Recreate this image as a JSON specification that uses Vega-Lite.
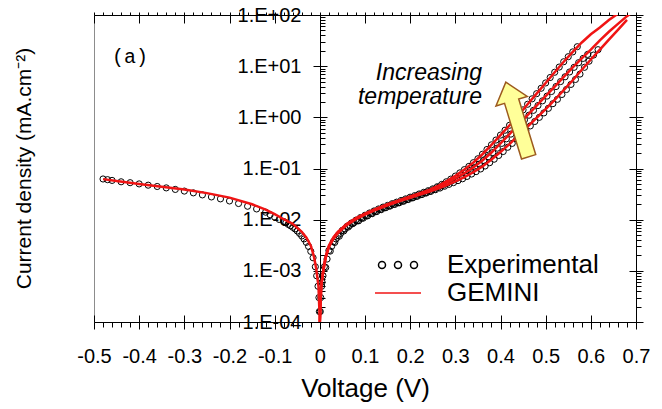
{
  "$schema": "https://vega.github.io/schema/vega-lite/v6.json",
  "width": 542,
  "height": 307,
  "autosize": {"type": "none"},
  "padding": {"left": 94, "top": 15, "right": 26, "bottom": 87},
  "config": {
    "font": "Liberation Sans",
    "view": {"stroke": "#8c8c8c", "strokeWidth": 1},
    "axis": {"grid": false, "domainColor": "black", "tickColor": "black", "labelColor": "black", "titleColor": "black", "domainWidth": 1, "tickWidth": 1, "labelOverlap": false, "labelFlush": false, "labelBound": false, "titleFontWeight": "normal"}
  },
  "datasets": {
    "exp": [
      {"v": -0.48, "j": 0.0624, "s": "N"}, {"v": -0.47, "j": 0.0605, "s": "N"}, {"v": -0.46, "j": 0.0585, "s": "N"}, {"v": -0.44, "j": 0.055, "s": "N"}, {"v": -0.42, "j": 0.0528, "s": "N"}, {"v": -0.40, "j": 0.050, "s": "N"}, {"v": -0.38, "j": 0.0472, "s": "N"}, {"v": -0.36, "j": 0.0445, "s": "N"}, {"v": -0.34, "j": 0.0418, "s": "N"}, {"v": -0.32, "j": 0.039, "s": "N"}, {"v": -0.30, "j": 0.0362, "s": "N"}, {"v": -0.28, "j": 0.0334, "s": "N"}, {"v": -0.26, "j": 0.0305, "s": "N"}, {"v": -0.24, "j": 0.0278, "s": "N"}, {"v": -0.22, "j": 0.0255, "s": "N"}, {"v": -0.20, "j": 0.0232, "s": "N"}, {"v": -0.18, "j": 0.0207, "s": "N"}, {"v": -0.16, "j": 0.0183, "s": "N"}, {"v": -0.14, "j": 0.0162, "s": "N"}, {"v": -0.12, "j": 0.014, "s": "N"}, {"v": -0.11, "j": 0.0125, "s": "N"}, {"v": -0.10, "j": 0.0112, "s": "N"}, {"v": -0.09, "j": 0.0101, "s": "N"}, {"v": -0.08, "j": 0.0092, "s": "N"}, {"v": -0.075, "j": 0.0087, "s": "N"}, {"v": -0.07, "j": 0.0081, "s": "N"}, {"v": -0.065, "j": 0.0076, "s": "N"}, {"v": -0.06, "j": 0.0071, "s": "N"}, {"v": -0.055, "j": 0.0066, "s": "N"}, {"v": -0.05, "j": 0.006, "s": "N"}, {"v": -0.045, "j": 0.0054, "s": "N"}, {"v": -0.04, "j": 0.0048, "s": "N"}, {"v": -0.035, "j": 0.0042, "s": "N"}, {"v": -0.03, "j": 0.0036, "s": "N"}, {"v": -0.025, "j": 0.003, "s": "N"}, {"v": -0.02, "j": 0.0024, "s": "N"}, {"v": -0.015, "j": 0.0018, "s": "N"}, {"v": -0.01, "j": 0.0012, "s": "N"}, {"v": -0.007, "j": 0.0008, "s": "N"}, {"v": -0.004, "j": 0.0005, "s": "N"}, {"v": -0.002, "j": 0.0003, "s": "N"}, {"v": -0.001, "j": 0.00016, "s": "N"},
      {"v": 0.001, "j": 0.00016, "s": "H"}, {"v": 0.002, "j": 0.0003, "s": "H"}, {"v": 0.004, "j": 0.0005, "s": "H"}, {"v": 0.007, "j": 0.0008, "s": "H"}, {"v": 0.01, "j": 0.0012, "s": "H"}, {"v": 0.02, "j": 0.0025, "s": "H"}, {"v": 0.03, "j": 0.0037, "s": "H"}, {"v": 0.04, "j": 0.0049, "s": "H"}, {"v": 0.05, "j": 0.0062, "s": "H"}, {"v": 0.06, "j": 0.0074, "s": "H"}, {"v": 0.07, "j": 0.0086, "s": "H"}, {"v": 0.08, "j": 0.0098, "s": "H"}, {"v": 0.09, "j": 0.011, "s": "H"}, {"v": 0.10, "j": 0.0122, "s": "H"}, {"v": 0.11, "j": 0.0135, "s": "H"}, {"v": 0.12, "j": 0.0148, "s": "H"}, {"v": 0.13, "j": 0.0162, "s": "H"}, {"v": 0.14, "j": 0.0176, "s": "H"}, {"v": 0.15, "j": 0.019, "s": "H"}, {"v": 0.16, "j": 0.0205, "s": "H"}, {"v": 0.17, "j": 0.022, "s": "H"}, {"v": 0.18, "j": 0.0237, "s": "H"}, {"v": 0.19, "j": 0.0255, "s": "H"}, {"v": 0.20, "j": 0.0275, "s": "H"}, {"v": 0.21, "j": 0.0295, "s": "H"}, {"v": 0.22, "j": 0.0318, "s": "H"}, {"v": 0.23, "j": 0.0342, "s": "H"}, {"v": 0.24, "j": 0.0368, "s": "H"}, {"v": 0.25, "j": 0.04, "s": "H"}, {"v": 0.26, "j": 0.044, "s": "H"}, {"v": 0.27, "j": 0.049, "s": "H"}, {"v": 0.28, "j": 0.055, "s": "H"}, {"v": 0.29, "j": 0.062, "s": "H"}, {"v": 0.30, "j": 0.071, "s": "H"}, {"v": 0.31, "j": 0.082, "s": "H"}, {"v": 0.32, "j": 0.095, "s": "H"}, {"v": 0.33, "j": 0.11, "s": "H"}, {"v": 0.34, "j": 0.13, "s": "H"}, {"v": 0.35, "j": 0.155, "s": "H"}, {"v": 0.36, "j": 0.19, "s": "H"}, {"v": 0.37, "j": 0.235, "s": "H"}, {"v": 0.38, "j": 0.29, "s": "H"}, {"v": 0.39, "j": 0.36, "s": "H"}, {"v": 0.40, "j": 0.45, "s": "H"}, {"v": 0.41, "j": 0.56, "s": "H"}, {"v": 0.42, "j": 0.70, "s": "H"}, {"v": 0.43, "j": 0.88, "s": "H"}, {"v": 0.44, "j": 1.1, "s": "H"}, {"v": 0.45, "j": 1.4, "s": "H"}, {"v": 0.46, "j": 1.8, "s": "H"}, {"v": 0.47, "j": 2.3, "s": "H"}, {"v": 0.48, "j": 2.9, "s": "H"}, {"v": 0.49, "j": 3.7, "s": "H"}, {"v": 0.50, "j": 4.7, "s": "H"}, {"v": 0.51, "j": 6.0, "s": "H"}, {"v": 0.52, "j": 7.6, "s": "H"}, {"v": 0.53, "j": 9.6, "s": "H"}, {"v": 0.54, "j": 12.2, "s": "H"}, {"v": 0.55, "j": 15.3, "s": "H"}, {"v": 0.56, "j": 19, "s": "H"}, {"v": 0.57, "j": 24, "s": "H"},
      {"v": 0.005, "j": 0.0006, "s": "M"}, {"v": 0.013, "j": 0.00116, "s": "M"}, {"v": 0.023, "j": 0.00243, "s": "M"}, {"v": 0.033, "j": 0.00359, "s": "M"}, {"v": 0.043, "j": 0.00475, "s": "M"}, {"v": 0.053, "j": 0.00601, "s": "M"}, {"v": 0.063, "j": 0.00718, "s": "M"}, {"v": 0.073, "j": 0.00834, "s": "M"}, {"v": 0.083, "j": 0.0095, "s": "M"}, {"v": 0.093, "j": 0.0107, "s": "M"}, {"v": 0.103, "j": 0.0118, "s": "M"}, {"v": 0.113, "j": 0.0131, "s": "M"}, {"v": 0.123, "j": 0.0144, "s": "M"}, {"v": 0.133, "j": 0.0157, "s": "M"}, {"v": 0.143, "j": 0.0171, "s": "M"}, {"v": 0.153, "j": 0.0184, "s": "M"}, {"v": 0.163, "j": 0.0199, "s": "M"}, {"v": 0.173, "j": 0.0213, "s": "M"}, {"v": 0.183, "j": 0.023, "s": "M"}, {"v": 0.193, "j": 0.0247, "s": "M"}, {"v": 0.203, "j": 0.0267, "s": "M"}, {"v": 0.213, "j": 0.0286, "s": "M"}, {"v": 0.223, "j": 0.0308, "s": "M"}, {"v": 0.233, "j": 0.0332, "s": "M"}, {"v": 0.243, "j": 0.0357, "s": "M"}, {"v": 0.253, "j": 0.0388, "s": "M"}, {"v": 0.263, "j": 0.043, "s": "M"}, {"v": 0.273, "j": 0.047, "s": "M"}, {"v": 0.283, "j": 0.052, "s": "M"}, {"v": 0.293, "j": 0.058, "s": "M"}, {"v": 0.303, "j": 0.064, "s": "M"}, {"v": 0.313, "j": 0.072, "s": "M"}, {"v": 0.323, "j": 0.081, "s": "M"}, {"v": 0.333, "j": 0.092, "s": "M"}, {"v": 0.343, "j": 0.105, "s": "M"}, {"v": 0.353, "j": 0.122, "s": "M"}, {"v": 0.363, "j": 0.143, "s": "M"}, {"v": 0.373, "j": 0.17, "s": "M"}, {"v": 0.383, "j": 0.205, "s": "M"}, {"v": 0.393, "j": 0.25, "s": "M"}, {"v": 0.403, "j": 0.31, "s": "M"}, {"v": 0.413, "j": 0.38, "s": "M"}, {"v": 0.423, "j": 0.47, "s": "M"}, {"v": 0.433, "j": 0.58, "s": "M"}, {"v": 0.443, "j": 0.72, "s": "M"}, {"v": 0.453, "j": 0.89, "s": "M"}, {"v": 0.463, "j": 1.1, "s": "M"}, {"v": 0.473, "j": 1.37, "s": "M"}, {"v": 0.483, "j": 1.7, "s": "M"}, {"v": 0.493, "j": 2.1, "s": "M"}, {"v": 0.503, "j": 2.6, "s": "M"}, {"v": 0.513, "j": 3.2, "s": "M"}, {"v": 0.523, "j": 4.0, "s": "M"}, {"v": 0.533, "j": 5.0, "s": "M"}, {"v": 0.543, "j": 6.2, "s": "M"}, {"v": 0.553, "j": 7.7, "s": "M"}, {"v": 0.563, "j": 9.5, "s": "M"}, {"v": 0.573, "j": 11.7, "s": "M"}, {"v": 0.583, "j": 14.2, "s": "M"}, {"v": 0.593, "j": 17, "s": "M"},
      {"v": 0.016, "j": 0.0017, "s": "L"}, {"v": 0.026, "j": 0.003, "s": "L"}, {"v": 0.036, "j": 0.0042, "s": "L"}, {"v": 0.046, "j": 0.0054, "s": "L"}, {"v": 0.056, "j": 0.0066, "s": "L"}, {"v": 0.066, "j": 0.0077, "s": "L"}, {"v": 0.076, "j": 0.0088, "s": "L"}, {"v": 0.086, "j": 0.0095, "s": "L"}, {"v": 0.096, "j": 0.0107, "s": "L"}, {"v": 0.106, "j": 0.0119, "s": "L"}, {"v": 0.116, "j": 0.0131, "s": "L"}, {"v": 0.126, "j": 0.0144, "s": "L"}, {"v": 0.136, "j": 0.0157, "s": "L"}, {"v": 0.146, "j": 0.0171, "s": "L"}, {"v": 0.156, "j": 0.0185, "s": "L"}, {"v": 0.166, "j": 0.0199, "s": "L"}, {"v": 0.176, "j": 0.0214, "s": "L"}, {"v": 0.186, "j": 0.023, "s": "L"}, {"v": 0.196, "j": 0.0248, "s": "L"}, {"v": 0.206, "j": 0.0267, "s": "L"}, {"v": 0.216, "j": 0.0287, "s": "L"}, {"v": 0.226, "j": 0.0309, "s": "L"}, {"v": 0.236, "j": 0.0333, "s": "L"}, {"v": 0.246, "j": 0.0358, "s": "L"}, {"v": 0.256, "j": 0.0385, "s": "L"}, {"v": 0.266, "j": 0.0415, "s": "L"}, {"v": 0.276, "j": 0.045, "s": "L"}, {"v": 0.286, "j": 0.049, "s": "L"}, {"v": 0.296, "j": 0.053, "s": "L"}, {"v": 0.306, "j": 0.058, "s": "L"}, {"v": 0.316, "j": 0.063, "s": "L"}, {"v": 0.326, "j": 0.07, "s": "L"}, {"v": 0.336, "j": 0.078, "s": "L"}, {"v": 0.346, "j": 0.087, "s": "L"}, {"v": 0.356, "j": 0.098, "s": "L"}, {"v": 0.366, "j": 0.112, "s": "L"}, {"v": 0.376, "j": 0.13, "s": "L"}, {"v": 0.386, "j": 0.152, "s": "L"}, {"v": 0.396, "j": 0.18, "s": "L"}, {"v": 0.406, "j": 0.215, "s": "L"}, {"v": 0.416, "j": 0.26, "s": "L"}, {"v": 0.426, "j": 0.31, "s": "L"}, {"v": 0.436, "j": 0.38, "s": "L"}, {"v": 0.446, "j": 0.46, "s": "L"}, {"v": 0.456, "j": 0.56, "s": "L"}, {"v": 0.466, "j": 0.68, "s": "L"}, {"v": 0.476, "j": 0.83, "s": "L"}, {"v": 0.486, "j": 1.0, "s": "L"}, {"v": 0.496, "j": 1.22, "s": "L"}, {"v": 0.506, "j": 1.5, "s": "L"}, {"v": 0.516, "j": 1.85, "s": "L"}, {"v": 0.526, "j": 2.25, "s": "L"}, {"v": 0.536, "j": 2.8, "s": "L"}, {"v": 0.546, "j": 3.5, "s": "L"}, {"v": 0.556, "j": 4.4, "s": "L"}, {"v": 0.566, "j": 5.5, "s": "L"}, {"v": 0.576, "j": 7.0, "s": "L"}, {"v": 0.586, "j": 9.5, "s": "L"}, {"v": 0.596, "j": 12.5, "s": "L"}, {"v": 0.606, "j": 16.5, "s": "L"}, {"v": 0.616, "j": 21, "s": "L"}
    ],
    "fit": [
      {"v": -0.48, "j": 0.062, "s": "H"}, {"v": -0.45, "j": 0.057, "s": "H"}, {"v": -0.40, "j": 0.05, "s": "H"}, {"v": -0.35, "j": 0.044, "s": "H"}, {"v": -0.30, "j": 0.039, "s": "H"}, {"v": -0.25, "j": 0.033, "s": "H"}, {"v": -0.20, "j": 0.027, "s": "H"}, {"v": -0.15, "j": 0.02, "s": "H"}, {"v": -0.12, "j": 0.0157, "s": "H"}, {"v": -0.10, "j": 0.0128, "s": "H"}, {"v": -0.08, "j": 0.0102, "s": "H"}, {"v": -0.06, "j": 0.0083, "s": "H"}, {"v": -0.04, "j": 0.0058, "s": "H"}, {"v": -0.03, "j": 0.0045, "s": "H"}, {"v": -0.02, "j": 0.0031, "s": "H"}, {"v": -0.013, "j": 0.0019, "s": "H"}, {"v": -0.008, "j": 0.0011, "s": "H"}, {"v": -0.003, "j": 0.0005, "s": "H"}, {"v": 0, "j": 0.0001, "s": "H"}, {"v": 0.003, "j": 0.0005, "s": "H"}, {"v": 0.008, "j": 0.0011, "s": "H"}, {"v": 0.013, "j": 0.0019, "s": "H"}, {"v": 0.02, "j": 0.0031, "s": "H"}, {"v": 0.03, "j": 0.0045, "s": "H"}, {"v": 0.04, "j": 0.0058, "s": "H"}, {"v": 0.06, "j": 0.0083, "s": "H"}, {"v": 0.08, "j": 0.0107, "s": "H"}, {"v": 0.10, "j": 0.0131, "s": "H"}, {"v": 0.12, "j": 0.0157, "s": "H"}, {"v": 0.15, "j": 0.02, "s": "H"}, {"v": 0.18, "j": 0.0247, "s": "H"}, {"v": 0.20, "j": 0.0283, "s": "H"}, {"v": 0.22, "j": 0.0325, "s": "H"}, {"v": 0.24, "j": 0.0375, "s": "H"}, {"v": 0.26, "j": 0.045, "s": "H"}, {"v": 0.28, "j": 0.056, "s": "H"}, {"v": 0.30, "j": 0.072, "s": "H"}, {"v": 0.32, "j": 0.096, "s": "H"}, {"v": 0.34, "j": 0.131, "s": "H"}, {"v": 0.36, "j": 0.19, "s": "H"}, {"v": 0.38, "j": 0.29, "s": "H"}, {"v": 0.40, "j": 0.45, "s": "H"}, {"v": 0.42, "j": 0.70, "s": "H"}, {"v": 0.44, "j": 1.1, "s": "H"}, {"v": 0.46, "j": 1.8, "s": "H"}, {"v": 0.48, "j": 2.9, "s": "H"}, {"v": 0.50, "j": 4.7, "s": "H"}, {"v": 0.52, "j": 7.6, "s": "H"}, {"v": 0.54, "j": 12.2, "s": "H"}, {"v": 0.56, "j": 19, "s": "H"}, {"v": 0.58, "j": 29, "s": "H"}, {"v": 0.60, "j": 42, "s": "H"}, {"v": 0.62, "j": 57, "s": "H"}, {"v": 0.64, "j": 80, "s": "H"}, {"v": 0.66, "j": 106, "s": "H"},
      {"v": 0, "j": 0.0001, "s": "M"}, {"v": 0.003, "j": 0.0005, "s": "M"}, {"v": 0.008, "j": 0.0011, "s": "M"}, {"v": 0.013, "j": 0.0019, "s": "M"}, {"v": 0.02, "j": 0.003, "s": "M"}, {"v": 0.03, "j": 0.0044, "s": "M"}, {"v": 0.04, "j": 0.0057, "s": "M"}, {"v": 0.06, "j": 0.0081, "s": "M"}, {"v": 0.08, "j": 0.0105, "s": "M"}, {"v": 0.10, "j": 0.0128, "s": "M"}, {"v": 0.12, "j": 0.0154, "s": "M"}, {"v": 0.15, "j": 0.0196, "s": "M"}, {"v": 0.18, "j": 0.0242, "s": "M"}, {"v": 0.20, "j": 0.0277, "s": "M"}, {"v": 0.22, "j": 0.0316, "s": "M"}, {"v": 0.24, "j": 0.0362, "s": "M"}, {"v": 0.26, "j": 0.043, "s": "M"}, {"v": 0.28, "j": 0.052, "s": "M"}, {"v": 0.30, "j": 0.064, "s": "M"}, {"v": 0.32, "j": 0.081, "s": "M"}, {"v": 0.34, "j": 0.105, "s": "M"}, {"v": 0.36, "j": 0.143, "s": "M"}, {"v": 0.38, "j": 0.205, "s": "M"}, {"v": 0.40, "j": 0.31, "s": "M"}, {"v": 0.42, "j": 0.47, "s": "M"}, {"v": 0.44, "j": 0.72, "s": "M"}, {"v": 0.46, "j": 1.1, "s": "M"}, {"v": 0.48, "j": 1.7, "s": "M"}, {"v": 0.50, "j": 2.6, "s": "M"}, {"v": 0.52, "j": 4.0, "s": "M"}, {"v": 0.54, "j": 6.2, "s": "M"}, {"v": 0.56, "j": 9.5, "s": "M"}, {"v": 0.58, "j": 14.2, "s": "M"}, {"v": 0.60, "j": 21, "s": "M"}, {"v": 0.62, "j": 32, "s": "M"}, {"v": 0.64, "j": 47, "s": "M"}, {"v": 0.66, "j": 67, "s": "M"}, {"v": 0.68, "j": 95, "s": "M"}, {"v": 0.69, "j": 110, "s": "M"},
      {"v": 0, "j": 0.0001, "s": "L"}, {"v": 0.003, "j": 0.0005, "s": "L"}, {"v": 0.008, "j": 0.001, "s": "L"}, {"v": 0.013, "j": 0.0018, "s": "L"}, {"v": 0.02, "j": 0.0029, "s": "L"}, {"v": 0.03, "j": 0.0042, "s": "L"}, {"v": 0.04, "j": 0.0055, "s": "L"}, {"v": 0.06, "j": 0.0079, "s": "L"}, {"v": 0.08, "j": 0.0102, "s": "L"}, {"v": 0.10, "j": 0.0125, "s": "L"}, {"v": 0.12, "j": 0.015, "s": "L"}, {"v": 0.15, "j": 0.019, "s": "L"}, {"v": 0.18, "j": 0.0235, "s": "L"}, {"v": 0.20, "j": 0.0268, "s": "L"}, {"v": 0.22, "j": 0.0305, "s": "L"}, {"v": 0.24, "j": 0.0348, "s": "L"}, {"v": 0.26, "j": 0.04, "s": "L"}, {"v": 0.28, "j": 0.047, "s": "L"}, {"v": 0.30, "j": 0.056, "s": "L"}, {"v": 0.32, "j": 0.068, "s": "L"}, {"v": 0.34, "j": 0.085, "s": "L"}, {"v": 0.36, "j": 0.11, "s": "L"}, {"v": 0.38, "j": 0.15, "s": "L"}, {"v": 0.40, "j": 0.21, "s": "L"}, {"v": 0.42, "j": 0.30, "s": "L"}, {"v": 0.44, "j": 0.45, "s": "L"}, {"v": 0.46, "j": 0.66, "s": "L"}, {"v": 0.48, "j": 0.98, "s": "L"}, {"v": 0.50, "j": 1.45, "s": "L"}, {"v": 0.52, "j": 2.2, "s": "L"}, {"v": 0.54, "j": 3.4, "s": "L"}, {"v": 0.56, "j": 5.3, "s": "L"}, {"v": 0.58, "j": 8.5, "s": "L"}, {"v": 0.60, "j": 13.5, "s": "L"}, {"v": 0.62, "j": 21, "s": "L"}, {"v": 0.64, "j": 33, "s": "L"}, {"v": 0.66, "j": 51, "s": "L"}, {"v": 0.68, "j": 80, "s": "L"}
    ],
    "leg": [{"v": 0, "j": 1, "name": "Experimental"}, {"v": 0, "j": 1, "name": "GEMINI"}],
    "arr": [{"v": 0.437, "j": 0.908}],
    "ann": [{"v": 0.359, "j": 5.37, "t": "Increasing"}, {"v": 0.359, "j": 1.82, "t": "temperature"}],
    "tag": [{"v": -0.46, "j": 11.5, "t": "(a)"}]
  },
  "resolve": {"axis": {"x": "independent", "y": "independent"}},
  "layer": [
    {
      "data": {"name": "exp"},
      "mark": {"type": "point", "filled": false, "stroke": "black", "strokeWidth": 1, "size": 38, "clip": true, "opacity": 1},
      "encoding": {
        "x": {"field": "v", "type": "quantitative", "scale": {"domain": [-0.5, 0.7], "nice": false, "zero": false},
          "axis": {"orient": "bottom", "values": [-0.48,-0.46,-0.44,-0.42,-0.38,-0.36,-0.34,-0.32,-0.28,-0.26,-0.24,-0.22,-0.18,-0.16,-0.14,-0.12,-0.08,-0.06,-0.04,-0.02,0.02,0.04,0.06,0.08,0.12,0.14,0.16,0.18,0.22,0.24,0.26,0.28,0.32,0.34,0.36,0.38,0.42,0.44,0.46,0.48,0.52,0.54,0.56,0.58,0.62,0.64,0.66,0.68], "labels": false, "domain": false, "tickSize": 5, "title": null}},
        "y": {"field": "j", "type": "quantitative", "scale": {"type": "log", "domain": [0.0001, 100], "nice": false},
          "axis": {"orient": "left", "offset": -226, "values": [0.0002,0.0003,0.0004,0.0005,0.0006,0.0007,0.0008,0.0009,0.002,0.003,0.004,0.005,0.006,0.007,0.008,0.009,0.02,0.03,0.04,0.05,0.06,0.07,0.08,0.09,0.2,0.3,0.4,0.5,0.6,0.7,0.8,0.9,2,3,4,5,6,7,8,9,20,30,40,50,60,70,80,90], "labels": false, "domain": false, "tickSize": -5, "title": null}}
      }
    },
    {
      "data": {"name": "fit"},
      "mark": {"type": "line", "color": "#f01414", "strokeWidth": 2.5, "clip": true},
      "encoding": {
        "x": {"field": "v", "type": "quantitative",
          "axis": {"orient": "bottom", "values": [-0.5,-0.4,-0.3,-0.2,-0.1,0,0.1,0.2,0.3,0.4,0.5,0.6,0.7], "labelExpr": "datum.value == 0 ? '0' : (datum.value < 0 ? '-' : '') + format(abs(datum.value), '.1f')", "tickSize": 7, "labelFontSize": 20, "labelPadding": 17, "labelBaseline": "top", "title": "Voltage (V)", "titleFontSize": 26, "titleY": 66, "titleBaseline": "middle"}},
        "y": {"field": "j", "type": "quantitative",
          "axis": {"orient": "left", "offset": -226, "values": [0.0001,0.001,0.01,0.1,1,10,100], "labelExpr": "'1.E' + (datum.value >= 1 ? '+' : '-') + (abs(round(log(datum.value)/LN10)) < 10 ? '0' : '') + abs(round(log(datum.value)/LN10))", "tickSize": 7, "labelFontSize": 20, "labelPadding": 12, "labelBaseline": "middle", "title": "Current density (mA.cm⁻²)", "titleFontSize": 21, "titleX": -296, "titleY": 153, "titleAngle": 270, "titleAlign": "center", "titleBaseline": "middle"}},
        "detail": {"field": "s", "type": "nominal"}
      }
    },
    {
      "data": {"name": "leg"},
      "mark": {"type": "point", "filled": false, "opacity": 0},
      "encoding": {
        "x": {"field": "v", "type": "quantitative",
          "axis": {"orient": "bottom", "values": [-0.5,-0.4,-0.3,-0.2,-0.1,0,0.1,0.2,0.3,0.4,0.5,0.6,0.7], "labels": false, "domain": false, "tickSize": -7, "title": null}},
        "y": {"field": "j", "type": "quantitative",
          "axis": {"orient": "left", "offset": -226, "values": [0.0001,0.001,0.01,0.1,1,10,100], "labels": false, "domain": false, "tickSize": -7, "title": null}},
        "shape": {"field": "name", "type": "nominal",
          "scale": {"domain": ["Experimental", "GEMINI"], "range": ["M-1.25,0A0.35,0.35 0 1,1 -1.95,0A0.35,0.35 0 1,1 -1.25,0M0.35,0A0.35,0.35 0 1,1 -0.35,0A0.35,0.35 0 1,1 0.35,0M1.95,0A0.35,0.35 0 1,1 1.25,0A0.35,0.35 0 1,1 1.95,0", "M-2.3,0L2.3,0"]},
          "legend": {"title": null, "orient": "none", "legendX": 291, "legendY": 237, "padding": 0, "symbolSize": 400, "labelFontSize": 26, "labelColor": "black", "labelOffset": 36, "rowPadding": 2, "labelFont": "Liberation Sans",
            "encode": {"symbols": {"update": {"opacity": {"value": 1}, "fill": {"value": "transparent"}, "strokeWidth": {"signal": "datum.value === 'GEMINI' ? 3 : 1.2"}}}}}},
        "color": {"field": "name", "type": "nominal",
          "scale": {"domain": ["Experimental", "GEMINI"], "range": ["black", "#f01414"]},
          "legend": {"title": null, "orient": "none", "legendX": 291, "legendY": 237, "padding": 0, "symbolSize": 400, "labelFontSize": 26, "labelColor": "black", "labelOffset": 36, "rowPadding": 2, "labelFont": "Liberation Sans",
            "encode": {"symbols": {"update": {"opacity": {"value": 1}, "fill": {"value": "transparent"}, "strokeWidth": {"signal": "datum.value === 'GEMINI' ? 3 : 1.2"}}}}}}
      }
    },
    {
      "data": {"name": "arr"},
      "mark": {"type": "point", "shape": "M0,-1L0.42,-0.49L0.19,-0.49L0.19,1L-0.19,1L-0.19,-0.49L-0.42,-0.49Z", "size": 6084, "angle": -17, "filled": true, "fill": "#ffff99", "stroke": "#9c5a1e", "strokeWidth": 1.5, "opacity": 1, "fillOpacity": 1},
      "encoding": {
        "x": {"field": "v", "type": "quantitative",
          "axis": {"orient": "top", "values": [-0.5,-0.4,-0.3,-0.2,-0.1,0,0.1,0.2,0.3,0.4,0.5,0.6,0.7], "labels": false, "tickSize": 3, "title": null}},
        "y": {"field": "j", "type": "quantitative",
          "axis": {"orient": "right", "values": [0.0001,0.001,0.01,0.1,1,10,100], "labels": false, "tickSize": 7, "title": null}}
      }
    },
    {
      "data": {"name": "ann"},
      "mark": {"type": "text", "align": "right", "baseline": "alphabetic", "fontSize": 23, "fontStyle": "italic", "font": "Liberation Sans", "color": "black"},
      "encoding": {
        "x": {"field": "v", "type": "quantitative",
          "axis": {"orient": "top", "values": [-0.48,-0.46,-0.44,-0.42,-0.38,-0.36,-0.34,-0.32,-0.28,-0.26,-0.24,-0.22,-0.18,-0.16,-0.14,-0.12,-0.08,-0.06,-0.04,-0.02,0.02,0.04,0.06,0.08,0.12,0.14,0.16,0.18,0.22,0.24,0.26,0.28,0.32,0.34,0.36,0.38,0.42,0.44,0.46,0.48,0.52,0.54,0.56,0.58,0.62,0.64,0.66,0.68], "labels": false, "domain": false, "tickSize": 3, "title": null}},
        "y": {"field": "j", "type": "quantitative",
          "axis": {"orient": "right", "values": [0.0002,0.0003,0.0004,0.0005,0.0006,0.0007,0.0008,0.0009,0.002,0.003,0.004,0.005,0.006,0.007,0.008,0.009,0.02,0.03,0.04,0.05,0.06,0.07,0.08,0.09,0.2,0.3,0.4,0.5,0.6,0.7,0.8,0.9,2,3,4,5,6,7,8,9,20,30,40,50,60,70,80,90], "labels": false, "domain": false, "tickSize": 5, "title": null}},
        "text": {"field": "t", "type": "nominal"}
      }
    },
    {
      "data": {"name": "tag"},
      "mark": {"type": "text", "align": "left", "baseline": "alphabetic", "fontSize": 20, "font": "Liberation Mono", "color": "black"},
      "encoding": {
        "x": {"field": "v", "type": "quantitative",
          "axis": {"orient": "top", "values": [-0.5,-0.4,-0.3,-0.2,-0.1,0,0.1,0.2,0.3,0.4,0.5,0.6,0.7], "labels": false, "domain": false, "tickSize": -8, "title": null}},
        "y": {"field": "j", "type": "quantitative",
          "axis": {"orient": "right", "values": [0.0001,0.001,0.01,0.1,1,10,100], "labels": false, "domain": false, "tickSize": -7, "title": null}},
        "text": {"field": "t", "type": "nominal"}
      }
    }
  ]
}
